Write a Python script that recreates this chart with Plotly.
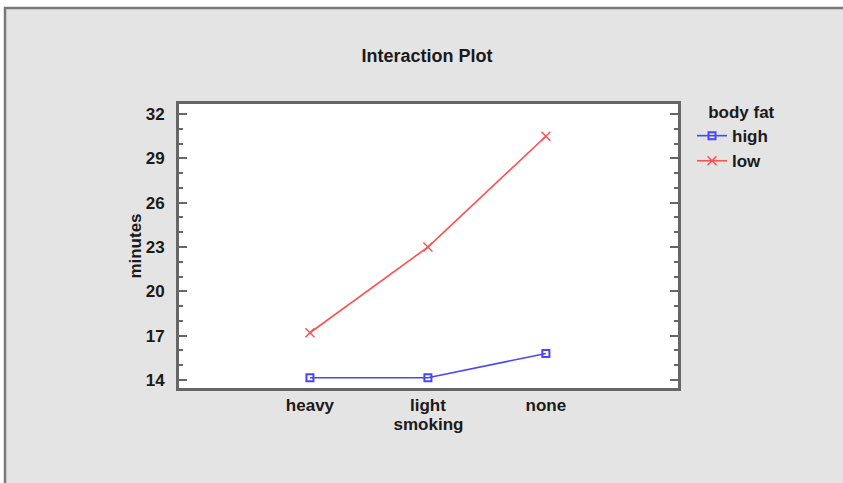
import plotly.graph_objects as go

# Interaction plot: mean minutes by smoking level, split by body fat
smoking = ["heavy", "light", "none"]
fat_high = [14.15, 14.15, 15.8]
fat_low = [17.2, 23.0, 30.5]
y_ticks = [14, 17, 20, 23, 26, 29, 32]

FONT = "Liberation Sans"
TXT = dict(family=FONT, size=17, color="#1a1a1a", weight="bold")
FRAME = "#666666"

W, H = 843, 483
L, R, T, B = 179, 165, 104, 95
PW, PH = W - L - R, H - T - B

x_pos = list(range(len(smoking)))

fig = go.Figure()
fig.add_trace(go.Scatter(
    x=x_pos, y=fat_high, name="high", mode="lines+markers",
    line=dict(color="#4646ff", width=1.6),
    marker=dict(symbol="square-open", size=7, color="#4646ff",
                line=dict(width=2, color="#4646ff")),
))
fig.add_trace(go.Scatter(
    x=x_pos, y=fat_low, name="low", mode="lines+markers",
    line=dict(color="#ff5050", width=1.6),
    marker=dict(symbol="x-thin", size=9, color="#ff5050",
                line=dict(width=1.5, color="#ff5050")),
))

fig.update_layout(
    width=W, height=H,
    margin=dict(l=L, r=R, t=T, b=B, autoexpand=False),
    paper_bgcolor="#e4e4e4",
    plot_bgcolor="#ffffff",
    font=TXT,
    title=dict(text="Interaction Plot", x=427 / W, xanchor="center",
               y=1 - 56 / H, yanchor="middle", yref="container",
               font=dict(TXT, size=18)),
    showlegend=True,
    legend=dict(
        title=dict(text="\u00a0\u00a0\u00a0body fat", font=TXT),
        x=(692 - L) / PW, xanchor="left",
        y=1 + 8 / PH, yanchor="top",
        bgcolor="rgba(0,0,0,0)", borderwidth=0,
        font=TXT, itemwidth=30, tracegroupgap=0,
    ),
    xaxis=dict(
        range=[-1.11, 3.12],
        tickvals=x_pos, ticktext=smoking,
        ticks="", showgrid=False, zeroline=False,
        showline=True, linecolor=FRAME, linewidth=3, mirror=True,
        ticklabelstandoff=0,
        title=dict(text="smoking", font=TXT, standoff=2),
        tickfont=TXT,
    ),
    yaxis=dict(
        range=[13.46, 32.68],
        tickvals=y_ticks,
        ticks="inside", ticklen=8, tickwidth=2, tickcolor=FRAME,
        minor=dict(dtick=1, tick0=14, ticks="inside", ticklen=4,
                   tickwidth=1.5, tickcolor=FRAME),
        showgrid=False, zeroline=False,
        showline=True, linecolor=FRAME, linewidth=3, mirror="allticks",
        ticklabelstandoff=8,
        title=dict(text="minutes", font=TXT, standoff=0),
        tickfont=TXT,
    ),
    shapes=[
        # white strip along the top and left edge
        dict(type="rect", xref="paper", yref="paper",
             x0=-L / PW - 0.01, x1=1 + R / PW + 0.01,
             y0=1 + (T - 7) / PH, y1=1 + T / PH + 0.01,
             fillcolor="#ffffff", line=dict(width=0), layer="above"),
        dict(type="rect", xref="paper", yref="paper",
             x0=-L / PW - 0.01, x1=-(L - 4) / PW,
             y0=-B / PH - 0.01, y1=1 + T / PH + 0.01,
             fillcolor="#ffffff", line=dict(width=0), layer="above"),
        # outer panel border (top and left)
        dict(type="line", xref="paper", yref="paper",
             x0=-(L - 4) / PW, x1=1 + R / PW + 0.01,
             y0=1 + (T - 8) / PH, y1=1 + (T - 8) / PH,
             line=dict(color="#7a7a7a", width=2.5)),
        dict(type="line", xref="paper", yref="paper",
             x0=-(L - 5) / PW, x1=-(L - 5) / PW,
             y0=1 + (T - 7) / PH, y1=-B / PH - 0.01,
             line=dict(color="#7a7a7a", width=2.5)),
    ],
)

fig.write_html("out.html")
